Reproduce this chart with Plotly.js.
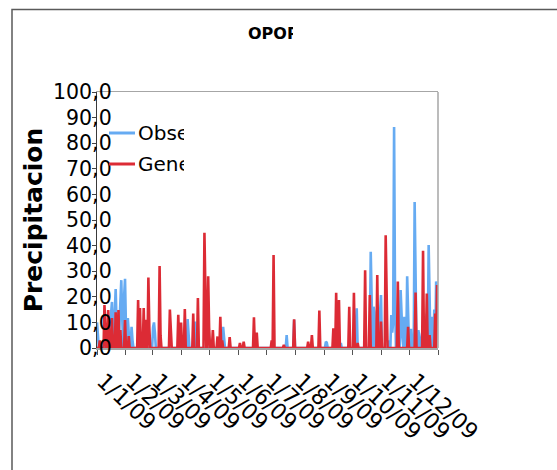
<!DOCTYPE html>
<html>
<head>
<meta charset="utf-8">
<script src="https://cdn.plot.ly/plotly-3.0.1.min.js"></script>
<style>
  html, body { margin: 0; padding: 0; background: #fff; }
  #chart { width: 557px; height: 470px; }
</style>
</head>
<body>
<div id="chart"></div>
<script>
// ---- Data (daily precipitation, 2009) ----
const startDate = '2009-01-01';
const seriesNames = ['Observed', 'Generated'];
const chartTitle = 'OPORTO';
const yTitle = 'Precipitacion';

const observed = [
  10,2,0,0,0,0,0,0,0,0,
  6,0,0,0,8,12,18,6,0,14,
  23,9,0,0,8,18,26.5,12,0,20,
  27,8,0,11.7,4,0,0,8.3,3,0,
  0,0,0,0,0,0,0,0,0,0,
  0,0,0,0,0,0,0,0,0,0,
  8,10,6,0,0,0,0,0,0,0,
  0,0,0,0,0,0,0,0,0,0,
  0,0,0,0,0,0,0,0,0,0,
  0,0,0,0,0,0,0,11.3,4,0,
  0,0,0,0,0,10.3,0,0,0,0,
  0,0,0,0,0,0,0,0,0,0,
  0,0,0,0,0,0,0,0,0,0,
  0,0,0,0,0,8.3,3,0,0,0,
  0,0,0,0,0,0,0,0,0,0,
  0,0,0,0,0,0,0,0,0,0,
  0,0,0,0,0,0,0,0,0,0,
  0,0,0,0,0,0,0,0,0,0,
  0,0,0,0,0,0,0,0,0,0,
  0,0,0,0,0,0,0,0,0,0,
  0,0,0,5,0,0,0,0,0,0,
  0,11,0,0,0,0,0,0,0,0,
  0,0,0,0,0,0,0,0,0,0,
  0,0,0,0,0,0,0,0,0,0,
  0,0,0,0,0,2.5,2,0,0,0,
  0,0,0,0,0,0,0,0,0,0,
  0,2,0,0,0,0,0,0,0,0,
  0,0,0,0,0,0,0,8,15.5,0,
  0,0,0,0,0,0,0,0,0,0,
  0,0,0,37.6,10,0,16.1,14,0,0,
  0,0,0,14,20.7,0,0,0,0,0,
  0,0,0,3,0,12.9,6,10,86.3,20,
  0,0,0,0,0,22.6,8,4,0,12.2,
  6,0,28,10,0,0,7.5,0,0,0,
  57,18,0,0,7,4,0,0,6,0,
  0,0,0,13.5,0,40.2,18,0,12.2,5,
  0,15,0,26,20
];

const generated = [
  0,0,0,3,0,0,0,0,16.8,6,
  0,0,14.8,5,0,0,11.7,0,0,0,
  14,0,0,14.8,0,7,0,0,0,0,
  10.9,0,0,0,4.6,0,0,0,0,0,
  0,0,0,0,18.7,0,15.6,0,0,0,
  15.6,0,11,0,0,27.5,8,0,0,0,
  0,0,0,0,0,0,0,32,5,0,
  0,0,0,0,0,0,0,0,15,3,
  0,0,0,0,0,0,0,13,0,0,
  9.9,0,0,0,15.2,0,0,0,0,0,
  0,0,0,13.5,0,0,0,0,19.5,0,
  0,0,0,0,0,45,10,0,0,28,
  8,0,0,0,7,0,0,0,0,4.5,
  0,0,12.2,0,3,0,0,0,0,0,
  0,0,4.3,0,0,0,0,0,0,0,
  0,0,0,2,0,0,0,2.5,0,0,
  0,0,0,0,0,0,0,0,12,0,
  0,6,0,0,0,0,0,0,0,0,
  0,0,0,0,0,0,0,3,0,36.3,
  0,0,0,0,0,0,0,0,0,0,
  1.2,0,0,0,0,0,0,0,0,0,
  0,11.2,0,0,0,0,0,0,0,0,
  0,0,0,0,0,0,2.5,0,0,0,
  5,0,0,0,0,0,0,0,14.6,0,
  0,0,0,0,0,0,0,0,0,0,
  0,0,0,7.7,0,0,21.6,0,0,18.7,
  0,0,0,0,0,0,0,0,0,0,
  16.1,0,0,0,0,21.6,0,0,0,2,
  0,0,0,0,0,0,0,30.4,0,0,
  0,0,20.7,0,0,0,0,0,0,0,
  28.5,0,0,0,10.3,0,0,0,0,44,
  8,0,0,0,0,0,0,0,0,0,
  0,0,26,0,0,0,0,0,0,0,
  0,0,0,8.3,0,0,0,0,0,0,
  0,21.7,0,0,0,0,0,0,0,38,
  0,0,0,21.3,0,0,5,0,0,0,
  0,0,13.5,0,24.6
];

const tickDates = ['2009-01-01','2009-02-01','2009-03-01','2009-04-01','2009-05-01','2009-06-01',
                   '2009-07-01','2009-08-01','2009-09-01','2009-10-01','2009-11-01','2009-12-01','2010-01-01'];
const tickLabels = ['1/1/09','1/2/09','1/3/09','1/4/09','1/5/09','1/6/09',
                    '1/7/09','1/8/09','1/9/09','1/10/09','1/11/09','1/12/09',''];

// build the daily date categories
const dates = [];
{
  const d0 = new Date(startDate + 'T00:00:00Z');
  for (let i = 0; i < observed.length; i++) {
    const d = new Date(d0.getTime() + i * 86400000);
    dates.push(d.toISOString().slice(0, 10));
  }
}

const BLUE = '#66abf2';
const RED = '#dc2b35';
const FONT = 'DejaVu Sans, Verdana, sans-serif';

const traces = [
  { x: dates, y: observed, type: 'scatter', mode: 'lines', name: seriesNames[0],
    line: { color: BLUE, width: 2.6 }, showlegend: false },
  { x: dates, y: generated, type: 'scatter', mode: 'lines', name: seriesNames[1],
    line: { color: RED, width: 2.6 }, showlegend: false }
];

// plot area in pixels: x 97..438, y 92..348
const L = 97, R = 438, T = 92, B = 348, W = 557, H = 470;
const px = v => (v - L) / (R - L);
const py = v => (B - v) / (B - T);

const layout = {
  width: W, height: H,
  margin: { l: L, r: W - R, t: T, b: H - B, pad: 0 },
  paper_bgcolor: '#ffffff',
  plot_bgcolor: '#ffffff',
  separators: ',.',
  font: { family: FONT, color: '#000', size: 20 },
  showlegend: false,
  xaxis: {
    type: 'date',
    range: ['2009-01-01', '2010-01-01'],
    tickmode: 'array', tickvals: tickDates, ticktext: tickLabels,
    tickangle: 43,
    ticks: 'outside', ticklen: 5, tickcolor: '#555', tickwidth: 1,
    ticklabelstandoff: 5, ticklabelshift: 6,
    showgrid: false, zeroline: false,
    showline: true, linecolor: '#a6a6a6', linewidth: 1.5, mirror: true,
    tickfont: { family: FONT, size: 22, color: '#000' },
    automargin: false
  },
  yaxis: {
    range: [0, 100], dtick: 10, tick0: 0, tickformat: '.1f',
    ticks: 'outside', ticklen: 4, tickcolor: '#444',
    showgrid: false, zeroline: false,
    showline: true, linecolor: '#3a3a3a', linewidth: 1.2,
    tickfont: { family: FONT, size: 20.5, color: '#000' },
    ticklabelstandoff: -24,
    title: { text: yTitle, font: { family: FONT, size: 25, color: '#000', weight: 'bold' }, standoff: 3 },
    automargin: false
  },
  shapes: [
    // outer chart-area border (extends beyond the window on right and bottom)
    { type: 'rect', xref: 'paper', yref: 'paper', x0: px(12), x1: px(620), y0: py(520), y1: py(9.5),
      line: { color: '#5a5a5a', width: 1.5 }, fillcolor: 'rgba(0,0,0,0)', layer: 'below' },
    // right border of plot area
    { type: 'line', xref: 'paper', yref: 'paper', x0: 1, x1: 1, y0: 0, y1: 1,
      line: { color: '#a6a6a6', width: 1.5 } },
    // legend swatches
    { type: 'line', xref: 'paper', yref: 'paper', x0: px(109), x1: px(135), y0: py(133), y1: py(133),
      line: { color: BLUE, width: 3 } },
    { type: 'line', xref: 'paper', yref: 'paper', x0: px(109), x1: px(135), y0: py(164), y1: py(164),
      line: { color: RED, width: 3 } }
  ],
  annotations: [
    { text: '<b>' + chartTitle + '</b>', xref: 'paper', yref: 'paper', x: px(248), y: py(33),
      xanchor: 'left', yanchor: 'middle', width: 45, align: 'left', showarrow: false,
      borderpad: 0, borderwidth: 0, font: { family: FONT, size: 16, color: '#000' } },
    { text: seriesNames[0], xref: 'paper', yref: 'paper', x: px(138), y: py(133),
      xanchor: 'left', yanchor: 'middle', width: 46, align: 'left', showarrow: false,
      borderpad: 0, borderwidth: 0, font: { family: FONT, size: 20, color: '#000' } },
    { text: seriesNames[1], xref: 'paper', yref: 'paper', x: px(138), y: py(164),
      xanchor: 'left', yanchor: 'middle', width: 46, align: 'left', showarrow: false,
      borderpad: 0, borderwidth: 0, font: { family: FONT, size: 20, color: '#000' } }
  ]
};

Plotly.newPlot('chart', traces, layout, { staticPlot: true, displayModeBar: false });
</script>
</body>
</html>
